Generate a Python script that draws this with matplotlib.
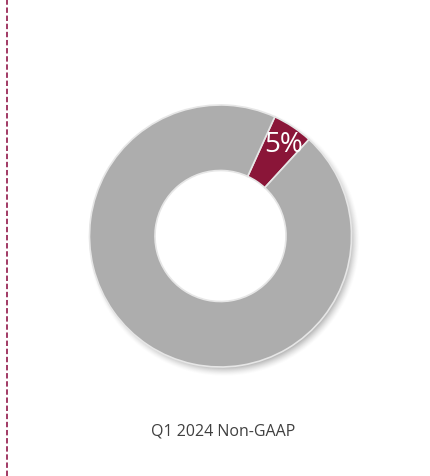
import matplotlib.pyplot as plt
import numpy as np

labels = ["Non-GAAP share", "Other"]
shares = [5, 95]
title = "Q1 2024 Non-GAAP"

W, H = 431, 476
fig = plt.figure(figsize=(W / 100, H / 100), dpi=100)
ax = fig.add_axes([0, 0, 1, 1])

cx, cy, R = 220.5, 240, 131
hole = R * 0.5

# soft drop shadow under the ring (not inside the hole)
yy, xx = np.mgrid[0:H, 0:W]
d = np.hypot(xx - (cx + 3), (H - yy) - (cy - 4))
d0 = np.hypot(xx - cx, (H - yy) - cy)
a = np.clip((R + 5 - d) / 10, 0, 1) ** 1.5 * 0.45
a[d0 < hole + 1] = 0
shadow = np.zeros((H, W, 4))
shadow[..., :3] = 0.35
shadow[..., 3] = a
ax.imshow(shadow, extent=(0, W, 0, H), origin="upper", zorder=0, interpolation="bilinear")

wedges, texts = ax.pie(
    shares, colors=["#8A1538", "#ADADAD"], startangle=90 - 24.5, counterclock=False,
    center=(cx, cy), radius=R,
    wedgeprops=dict(width=R - hole, edgecolor="#E6E6E6", linewidth=1.2),
)
for w in wedges:
    w.set_zorder(2)

# value label on the small slice
mid = np.deg2rad(90 - 24.5 - shares[0] / 100 * 360 / 2)
ax.text(cx + 0.85 * R * np.cos(mid) + 2, cy + 0.85 * R * np.sin(mid) - 2, f"{shares[0]}%",
        color="white", fontsize=20, family="Open Sans", ha="center", va="center", zorder=3)

ax.text(223, H - 432, title, color="#404040", fontsize=11.5, family="Open Sans",
        ha="center", va="center")

# dashed divider on the left edge
ax.plot([7, 7], [0, H], color="#9A2A58", lw=1.3, linestyle=(0, (3, 1.5)), zorder=1)

ax.set_xlim(0, W)
ax.set_ylim(0, H)
ax.set_aspect("auto")
ax.axis("off")

fig.savefig("out.png", dpi=100)
